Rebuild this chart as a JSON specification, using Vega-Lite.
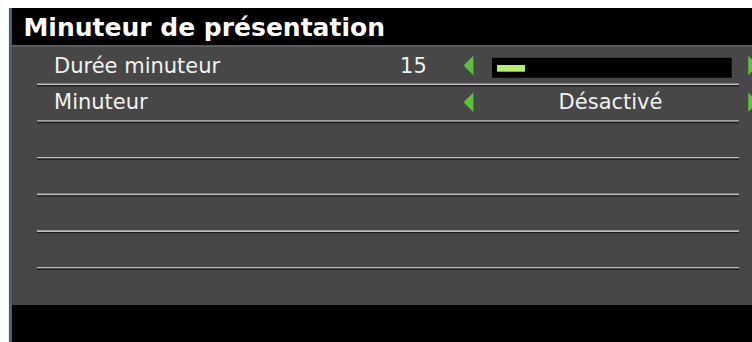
{
  "$schema": "https://vega.github.io/schema/vega-lite/v6.json",
  "width": 743,
  "height": 334,
  "autosize": {"type": "none"},
  "padding": {"left": 9, "top": 8, "right": 0, "bottom": 0},
  "background": "#ffffff",
  "config": {
    "view": {"stroke": null, "fill": "#474747"},
    "axis": {"disable": true},
    "text": {"font": "DejaVu Sans"}
  },
  "datasets": {
    "items": [
      {"row": 1, "label": "Durée minuteur", "value": "15", "minutes": 15, "arrows": "yes"},
      {"row": 2, "label": "Minuteur", "setting": "Désactivé", "arrows": "yes"},
      {"row": 3},
      {"row": 4},
      {"row": 5},
      {"row": 6}
    ],
    "header": [{"title": "Minuteur de présentation"}]
  },
  "resolve": {"scale": {"x": "independent"}},
  "layer": [
    {
      "data": {"name": "items"},
      "layer": [
        {
          "mark": {"type": "rect", "color": "#000000"},
          "encoding": {
            "x": {"datum": 0.4, "type": "quantitative", "scale": {"domain": [0, 100]}},
            "x2": {"datum": 100},
            "y": {"datum": -1.1, "type": "quantitative", "scale": {"domain": [-1.1, 8], "reverse": true}},
            "y2": {"datum": -0.09}
          }
        },
        {
          "mark": {"type": "rule", "color": "#5c5c5c", "strokeWidth": 2, "yOffset": 1},
          "encoding": {
            "x": {"datum": 0.4, "type": "quantitative", "scale": {"domain": [0, 100]}},
            "x2": {"datum": 100},
            "y": {"datum": -0.09, "type": "quantitative", "scale": {"domain": [-1.1, 8], "reverse": true}}
          }
        },
        {
          "mark": {"type": "rect", "color": "#000000"},
          "encoding": {
            "x": {"datum": 0.4, "type": "quantitative", "scale": {"domain": [0, 100]}},
            "x2": {"datum": 100},
            "y": {"datum": 7, "type": "quantitative", "scale": {"domain": [-1.1, 8], "reverse": true}},
            "y2": {"datum": 8}
          }
        },
        {
          "mark": {"type": "rule", "color": "#4c5d7c", "strokeWidth": 3},
          "encoding": {
            "x": {"datum": 0.2, "type": "quantitative", "scale": {"domain": [0, 100]}},
            "y": {"datum": -1.1, "type": "quantitative", "scale": {"domain": [-1.1, 8], "reverse": true}},
            "y2": {"datum": 8}
          }
        },
        {
          "data": {"name": "header"},
          "mark": {"type": "text", "align": "left", "baseline": "alphabetic", "fontSize": 25, "fontWeight": "bold", "color": "#ffffff"},
          "encoding": {
            "x": {"datum": 1.95, "type": "quantitative", "scale": {"domain": [0, 100]}},
            "y": {"datum": -0.34, "type": "quantitative", "scale": {"domain": [-1.1, 8], "reverse": true}},
            "text": {"field": "title"}
          }
        },
        {
          "mark": {"type": "rule", "color": "#bdbdbd", "strokeWidth": 1.6, "yOffset": -0.8},
          "encoding": {
            "x": {"datum": 3.77, "type": "quantitative", "scale": {"domain": [0, 100]}},
            "x2": {"datum": 98.25},
            "y": {"field": "row", "type": "quantitative", "scale": {"domain": [-1.1, 8], "reverse": true}}
          }
        },
        {
          "mark": {"type": "rule", "color": "#1c1c1c", "strokeWidth": 1.4, "yOffset": 0.7},
          "encoding": {
            "x": {"datum": 3.77, "type": "quantitative", "scale": {"domain": [0, 100]}},
            "x2": {"datum": 98.25},
            "y": {"field": "row", "type": "quantitative", "scale": {"domain": [-1.1, 8], "reverse": true}}
          }
        },
        {
          "transform": [{"filter": "datum.label"}],
          "mark": {"type": "text", "align": "left", "baseline": "alphabetic", "fontSize": 21, "color": "#f2f2f2", "yOffset": -12.4},
          "encoding": {
            "x": {"datum": 6.06, "type": "quantitative", "scale": {"domain": [0, 100]}},
            "y": {"field": "row", "type": "quantitative", "scale": {"domain": [-1.1, 8], "reverse": true}},
            "text": {"field": "label"}
          }
        },
        {
          "transform": [{"filter": "datum.value"}],
          "mark": {"type": "text", "align": "center", "baseline": "alphabetic", "fontSize": 21, "color": "#f2f2f2", "yOffset": -12.4},
          "encoding": {
            "x": {"datum": 54.43, "type": "quantitative", "scale": {"domain": [0, 100]}},
            "y": {"field": "row", "type": "quantitative", "scale": {"domain": [-1.1, 8], "reverse": true}},
            "text": {"field": "value"}
          }
        },
        {
          "transform": [{"filter": "datum.setting"}],
          "mark": {"type": "text", "align": "center", "baseline": "alphabetic", "fontSize": 21, "color": "#f2f2f2", "yOffset": -12.4},
          "encoding": {
            "x": {"datum": 80.96, "type": "quantitative", "scale": {"domain": [0, 100]}},
            "y": {"field": "row", "type": "quantitative", "scale": {"domain": [-1.1, 8], "reverse": true}},
            "text": {"field": "setting"}
          }
        },
        {
          "transform": [{"filter": "datum.minutes"}],
          "mark": {"type": "rule", "color": "#000000", "strokeWidth": 20, "strokeCap": "butt", "yOffset": -17.4},
          "encoding": {
            "x": {"datum": 65.01, "type": "quantitative", "scale": {"domain": [0, 100]}},
            "x2": {"datum": 97.27},
            "y": {"field": "row", "type": "quantitative", "scale": {"domain": [-1.1, 8], "reverse": true}}
          }
        },
        {
          "transform": [{"filter": "datum.arrows"}],
          "mark": {"type": "point", "shape": "M0.5,-1 L-0.5,0 L0.5,1 Z", "size": 380, "filled": true, "color": "#5cc13a", "opacity": 1, "yOffset": -19.6},
          "encoding": {
            "x": {"datum": 61.84, "type": "quantitative", "scale": {"domain": [0, 100]}},
            "y": {"field": "row", "type": "quantitative", "scale": {"domain": [-1.1, 8], "reverse": true}}
          }
        },
        {
          "transform": [{"filter": "datum.arrows"}],
          "mark": {"type": "point", "shape": "M-0.5,-1 L0.5,0 L-0.5,1 Z", "size": 380, "filled": true, "color": "#5cc13a", "opacity": 1, "yOffset": -19.6},
          "encoding": {
            "x": {"datum": 100.15, "type": "quantitative", "scale": {"domain": [0, 100]}},
            "y": {"field": "row", "type": "quantitative", "scale": {"domain": [-1.1, 8], "reverse": true}}
          }
        }
      ]
    },
    {
      "data": {"name": "items"},
      "transform": [{"filter": "datum.minutes"}],
      "mark": {"type": "rule", "color": "#b2f074", "strokeWidth": 6.7, "strokeCap": "butt", "yOffset": -16.7},
      "encoding": {
        "x": {"field": "minutes", "type": "quantitative", "scale": {"domain": [0, 120], "range": [488, 712]}},
        "x2": {"datum": 0},
        "y": {"field": "row", "type": "quantitative", "scale": {"domain": [-1.1, 8], "reverse": true}}
      }
    }
  ]
}
